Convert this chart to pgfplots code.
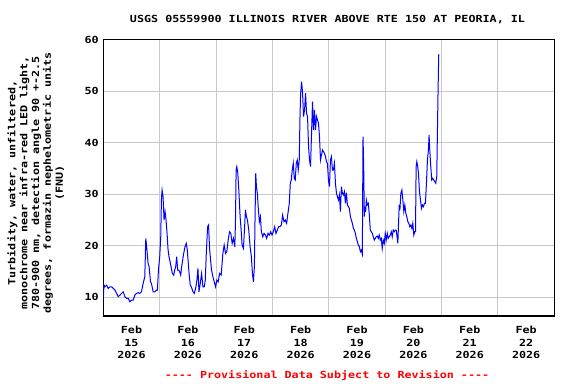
\documentclass[border=0pt]{standalone}
\usepackage{pgfplots}
\pgfplotsset{compat=1.18}
\usepackage{fontspec}
\setmonofont{DejaVu Sans Mono}[FakeStretch=1.2]
\renewcommand{\familydefault}{\ttdefault}
\definecolor{gridgray}{RGB}{200,200,200}
\begin{document}
\begin{tikzpicture}
\path[use as bounding box] (-103.3bp,-68bp) rectangle (472.7bp,316bp);
\begin{axis}[
  at={(0,0)}, anchor=south west,
  scale only axis, width=451bp, height=276.3bp,
  xmin=0, xmax=8, ymin=6.4, ymax=60,
  axis line style={line width=1.4bp, black},
  xtick={0.5,1.5,...,7.5},
  xticklabels={Feb\\15\\2026,Feb\\16\\2026,Feb\\17\\2026,Feb\\18\\2026,Feb\\19\\2026,Feb\\20\\2026,Feb\\21\\2026,Feb\\22\\2026},
  minor xtick={1,2,...,7},
  xminorgrids, ymajorgrids,
  ytick={10,20,...,60},
  major tick length=0pt, minor tick length=0pt,
  grid style={gridgray, line width=1bp},
  minor grid style={gridgray, line width=1bp},
  /pgf/number format/assume math mode=true,
  ticklabel style={font=\ttfamily\fontsize{9.8}{12.8}\selectfont\bfseries},
  xticklabel style={align=center, yshift=-6.5bp},
  yticklabel style={xshift=-1bp},
  clip=true,
]
\addplot[blue, line width=1bp] coordinates {
(0.000,9.81)(0.012,12.39)(0.029,12.07)(0.059,12.39)(0.088,11.75)(0.118,12.07)(0.147,12.07)(0.177,11.75)
(0.206,11.42)(0.236,10.78)(0.265,10.13)(0.295,10.45)(0.324,10.78)(0.353,11.10)(0.383,10.13)(0.412,9.81)
(0.442,9.81)(0.471,9.16)(0.501,9.48)(0.530,9.48)(0.560,10.45)(0.589,10.78)(0.619,10.91)(0.648,10.78)
(0.677,11.10)(0.707,12.72)(0.736,14.01)(0.754,21.46)(0.766,20.16)(0.795,16.60)(0.813,15.95)(0.837,13.04)
(0.854,12.72)(0.884,11.10)(0.913,11.10)(0.943,11.42)(0.960,11.42)(0.978,15.31)(1.001,17.90)(1.019,21.78)
(1.031,28.90)(1.043,30.84)(1.060,29.55)(1.078,25.02)(1.096,26.63)(1.113,25.02)(1.131,22.43)(1.149,19.19)
(1.166,17.90)(1.184,16.93)(1.202,15.95)(1.225,14.66)(1.249,14.34)(1.267,15.31)(1.284,15.95)(1.302,17.90)
(1.320,15.31)(1.337,15.31)(1.355,14.98)(1.373,14.34)(1.390,15.95)(1.408,17.25)(1.426,18.54)(1.449,19.84)
(1.473,20.49)(1.490,19.19)(1.508,16.60)(1.526,14.01)(1.543,12.39)(1.561,12.07)(1.591,11.10)(1.614,10.78)
(1.638,11.75)(1.661,13.37)(1.679,15.63)(1.697,11.10)(1.720,12.72)(1.744,14.66)(1.767,12.07)(1.791,12.07)
(1.809,13.37)(1.826,18.22)(1.850,23.72)(1.867,24.05)(1.885,19.51)(1.903,17.25)(1.920,15.31)(1.944,14.01)
(1.968,13.04)(1.991,12.07)(2.015,13.37)(2.038,13.04)(2.062,14.66)(2.091,14.34)(2.121,18.54)(2.144,20.16)
(2.168,18.54)(2.191,18.87)(2.215,21.13)(2.239,22.75)(2.262,22.43)(2.286,20.49)(2.309,21.46)(2.333,19.84)
(2.345,25.02)(2.356,34.72)(2.368,35.37)(2.386,34.08)(2.404,30.84)(2.427,25.66)(2.445,23.07)(2.462,20.16)
(2.486,19.51)(2.504,23.07)(2.521,26.96)(2.539,25.66)(2.557,25.02)(2.580,23.07)(2.604,19.84)(2.627,17.90)
(2.645,14.66)(2.663,13.04)(2.680,15.95)(2.692,25.66)(2.704,34.08)(2.716,31.49)(2.733,30.19)(2.751,26.96)
(2.769,24.69)(2.787,25.66)(2.804,22.75)(2.828,21.78)(2.851,22.43)(2.875,22.10)(2.898,21.46)(2.922,22.43)
(2.946,22.10)(2.969,22.75)(2.993,22.10)(3.016,22.75)(3.040,23.72)(3.063,22.43)(3.087,23.07)(3.110,23.72)
(3.134,23.72)(3.158,24.05)(3.181,25.99)(3.205,24.69)(3.228,25.02)(3.252,24.37)(3.275,26.31)(3.299,28.25)
(3.317,32.14)(3.334,32.78)(3.352,34.72)(3.370,36.02)(3.387,33.11)(3.405,32.78)(3.423,36.02)(3.440,36.67)
(3.458,34.72)(3.476,36.67)(3.488,44.43)(3.499,49.29)(3.517,51.88)(3.535,49.61)(3.552,45.08)(3.570,46.38)
(3.588,49.61)(3.605,45.73)(3.623,45.08)(3.641,39.26)(3.658,36.67)(3.676,35.37)(3.694,41.84)(3.711,47.99)
(3.729,42.49)(3.747,46.38)(3.764,42.49)(3.782,45.08)(3.800,44.43)(3.817,43.79)(3.835,41.20)(3.853,36.67)
(3.870,37.64)(3.888,38.61)(3.906,38.28)(3.923,37.96)(3.941,37.31)(3.959,36.34)(3.976,36.02)(3.994,32.78)
(4.012,31.49)(4.029,36.67)(4.047,37.31)(4.065,34.72)(4.082,34.72)(4.100,36.02)(4.118,32.14)(4.136,30.19)
(4.153,29.55)(4.171,28.90)(4.189,29.87)(4.206,26.63)(4.224,31.49)(4.242,30.19)(4.259,29.87)(4.277,30.52)
(4.295,28.25)(4.312,30.32)(4.330,27.93)(4.348,27.61)(4.365,27.28)(4.383,25.66)(4.401,25.02)(4.418,24.37)
(4.436,23.40)(4.454,23.07)(4.471,22.43)(4.489,21.46)(4.507,20.81)(4.524,20.16)(4.542,19.84)(4.560,18.87)
(4.577,19.19)(4.595,18.41)(4.607,41.20)(4.619,35.37)(4.630,25.66)(4.642,27.61)(4.654,26.63)(4.666,28.90)
(4.683,27.93)(4.701,28.25)(4.719,25.99)(4.736,23.07)(4.754,22.75)(4.772,22.43)(4.789,21.78)(4.807,21.13)
(4.825,21.46)(4.842,21.78)(4.860,21.91)(4.878,21.46)(4.895,22.10)(4.913,21.13)(4.931,21.46)(4.948,19.51)
(4.966,21.13)(4.984,20.49)(5.001,22.43)(5.019,21.13)(5.037,22.43)(5.054,21.46)(5.072,21.78)(5.090,22.10)
(5.108,22.75)(5.125,21.78)(5.143,23.07)(5.161,22.75)(5.178,23.07)(5.196,23.07)(5.214,21.46)(5.225,20.49)
(5.237,24.37)(5.249,27.93)(5.261,26.96)(5.278,30.19)(5.296,30.84)(5.314,28.90)(5.331,26.63)(5.349,27.93)
(5.367,26.31)(5.384,25.66)(5.402,24.69)(5.420,24.37)(5.437,23.72)(5.455,24.05)(5.473,23.40)(5.490,24.37)
(5.508,22.10)(5.526,22.75)(5.538,22.75)(5.549,35.37)(5.561,36.34)(5.573,35.70)(5.591,34.08)(5.608,30.52)
(5.626,28.90)(5.644,27.28)(5.661,27.93)(5.679,27.61)(5.697,28.25)(5.714,28.25)(5.732,32.14)(5.750,36.67)
(5.767,38.61)(5.779,41.52)(5.791,38.61)(5.809,35.37)(5.826,32.78)(5.844,33.11)(5.862,32.78)(5.879,32.46)
(5.897,32.14)(5.915,33.43)(5.926,41.52)(5.938,49.94)(5.950,57.06)(5.962,57.06)
};
\end{axis}
\node[rotate=90, align=center, font=\ttfamily\fontsize{9.8}{11.9}\selectfont\bfseries]
  at (-67.5bp,133bp)
  {Turbidity, water, unfiltered,\\monochrome near infra-red LED light,\\780-900 nm, detection angle 90 +-2.5\\degrees, formazin nephelometric units\\(FNU)};
\node[font=\ttfamily\fontsize{9.8}{12}\selectfont\bfseries] at (224.2bp,296bp) {USGS 05559900 ILLINOIS RIVER ABOVE RTE 150 AT PEORIA, IL};
\node[font=\ttfamily\fontsize{9.8}{12}\selectfont\bfseries, text=red] at (223.7bp,-60bp) {---- Provisional Data Subject to Revision ----};
\end{tikzpicture}
\end{document}
